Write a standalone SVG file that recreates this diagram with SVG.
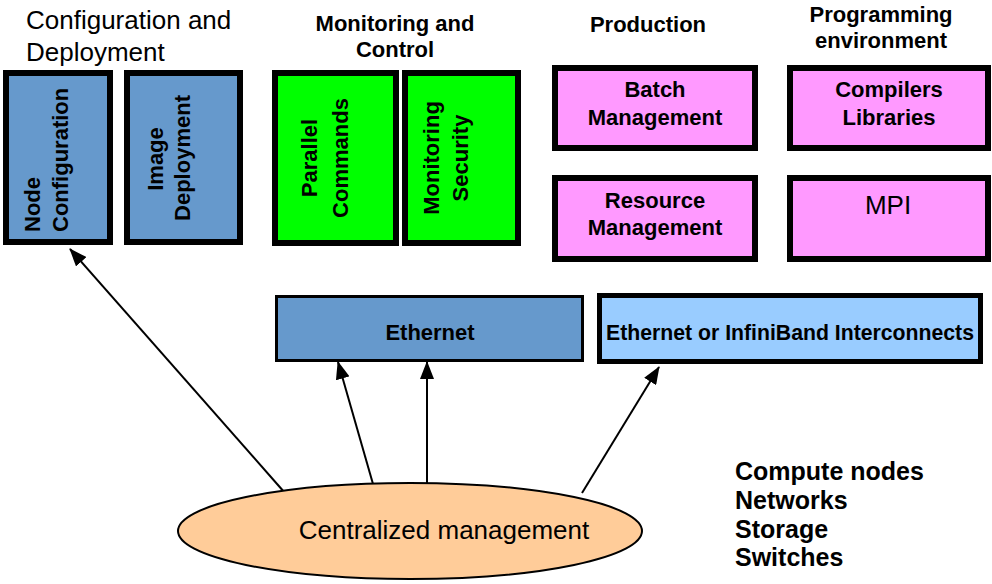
<svg xmlns="http://www.w3.org/2000/svg" width="992" height="584" viewBox="0 0 992 584">
<defs>
<style>
.box{stroke:#000;stroke-width:6}
.blue{fill:#6699CC}
.green{fill:#00FF00}
.pink{fill:#FF99FF}
.lblue{fill:#99CCFF}
.b{font-family:"Liberation Sans",Arial,sans-serif;font-weight:bold;font-size:22px;fill:#000}
.g{font-family:"Liberation Sans",Arial,sans-serif;font-size:26px;fill:#000}
.c{text-anchor:middle}
.l{font-size:25px}
.conn{stroke:#000;stroke-width:2;fill:none;marker-end:url(#ah)}
</style>
<marker id="ah" markerUnits="userSpaceOnUse" markerWidth="18" markerHeight="14" viewBox="0 0 18 14" refX="17" refY="7" orient="auto">
<path d="M0,0 L18,7 L0,14 Z" fill="#000"/>
</marker>
</defs>
<rect width="992" height="584" fill="#fff"/>

<g id="title-config">
<text class="g" x="26" y="29">Configuration and</text>
<text class="g" x="26" y="61">Deployment</text>
</g>
<g id="title-monitoring">
<text class="b c" x="395" y="31">Monitoring and</text>
<text class="b c" x="395" y="57">Control</text>
</g>
<g id="title-production">
<text class="b c" x="648" y="32">Production</text>
</g>
<g id="title-programming">
<text class="b c" x="881" y="22">Programming</text>
<text class="b c" x="881" y="48">environment</text>
</g>

<g id="node-configuration">
<rect class="box blue" x="6" y="73" width="104" height="169"/>
<text class="b" transform="translate(40,232) rotate(-90)">Node</text>
<text class="b" transform="translate(68,232) rotate(-90)">Configuration</text>
</g>
<g id="image-deployment">
<rect class="box blue" x="127" y="73" width="113" height="169"/>
<text class="b c" transform="translate(163,159) rotate(-90)">Image</text>
<text class="b c" transform="translate(190,158) rotate(-90)">Deployment</text>
</g>
<g id="parallel-commands">
<rect class="box green" x="275" y="73" width="121" height="170"/>
<text class="b c" transform="translate(317,158) rotate(-90)">Parallel</text>
<text class="b c" transform="translate(348,158) rotate(-90)">Commands</text>
</g>
<g id="monitoring-security">
<rect class="box green" x="405" y="73" width="113" height="170"/>
<text class="b c" transform="translate(439,158) rotate(-90)">Monitoring</text>
<text class="b c" transform="translate(468,158) rotate(-90)">Security</text>
</g>

<g id="batch-management">
<rect class="box pink" x="555" y="68" width="200" height="80"/>
<text class="b c" x="655" y="97">Batch</text>
<text class="b c" x="655" y="125">Management</text>
</g>
<g id="compilers-libraries">
<rect class="box pink" x="790" y="68" width="198" height="80"/>
<text class="b c" x="889" y="97">Compilers</text>
<text class="b c" x="889" y="125">Libraries</text>
</g>
<g id="resource-management">
<rect class="box pink" x="555" y="178" width="200" height="81"/>
<text class="b c" x="655" y="208">Resource</text>
<text class="b c" x="655" y="235">Management</text>
</g>
<g id="mpi">
<rect class="box pink" x="790" y="178" width="198" height="81"/>
<text class="g c" x="888" y="214">MPI</text>
</g>

<g id="ethernet">
<rect class="blue" x="276.5" y="296.5" width="306" height="64" stroke="#000" stroke-width="3"/>
<text class="b c" x="430" y="340">Ethernet</text>
</g>
<g id="interconnects">
<rect class="lblue" x="599.5" y="295.5" width="381" height="66" stroke="#000" stroke-width="5"/>
<text class="b c" x="790" y="340" textLength="368" lengthAdjust="spacingAndGlyphs">Ethernet or InfiniBand Interconnects</text>
</g>

<g id="connectors">
<line class="conn" x1="285" y1="493" x2="70" y2="249"/>
<line class="conn" x1="373" y1="484" x2="338" y2="362"/>
<line class="conn" x1="427" y1="483" x2="427" y2="362"/>
<line class="conn" x1="582" y1="493" x2="659" y2="367"/>
</g>

<g id="centralized-management">
<ellipse cx="410" cy="531" rx="232" ry="48" fill="#FFCC99" stroke="#000" stroke-width="2"/>
<text class="g c" x="444" y="539">Centralized management</text>
</g>

<g id="resources-list">
<text class="b l" x="735" y="480">Compute nodes</text>
<text class="b l" x="735" y="509">Networks</text>
<text class="b l" x="735" y="538">Storage</text>
<text class="b l" x="735" y="566">Switches</text>
</g>
</svg>
